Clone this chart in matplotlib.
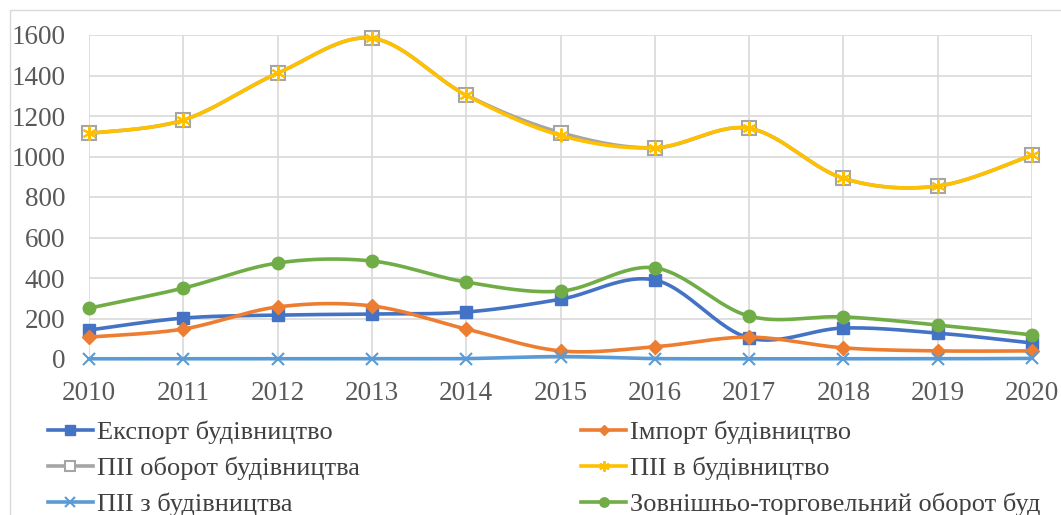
import matplotlib
matplotlib.use('Agg')
import matplotlib.pyplot as plt
from matplotlib.lines import Line2D
from matplotlib.patches import Rectangle
import numpy as np

plt.rcParams['font.family'] = ['Liberation Serif', 'DejaVu Serif']

years = [2010, 2011, 2012, 2013, 2014, 2015, 2016, 2017, 2018, 2019, 2020]
export_bud = [143, 202, 217, 222, 232, 295, 390, 104, 153, 128, 79]
import_bud = [108, 148, 257, 262, 148, 40, 60, 108, 55, 40, 40]
pii_oborot = [1114, 1180, 1411, 1584, 1304, 1118, 1043, 1139, 892, 854, 1007]
pii_v = [1114, 1180, 1411, 1584, 1302, 1104, 1043, 1139, 892, 854, 1007]
pii_z = [1, 1, 1, 1, 2, 12, 2, 1, 1, 1, 3]
zovn = [251, 350, 474, 484, 380, 335, 450, 212, 208, 168, 119]

labels = ['Експорт будівництво', 'Імпорт будівництво', 'ПІІ оборот будівництва',
          'ПІІ в будівництво', 'ПІІ з будівництва', 'Зовнішньо-торговельний оборот буд']


def smooth(xs, ys, n=30):
    # catmull-rom -> bezier, roughly what excel does for smoothed lines
    x = np.asarray(xs, float)
    y = np.asarray(ys, float)
    px = np.concatenate(([x[0]], x, [x[-1]]))
    py = np.concatenate(([y[0]], y, [y[-1]]))
    t = np.linspace(0, 1, n)
    ox, oy = [], []
    for i in range(1, len(px) - 2):
        c1x = px[i] + (px[i + 1] - px[i - 1]) / 6
        c1y = py[i] + (py[i + 1] - py[i - 1]) / 6
        c2x = px[i + 1] - (px[i + 2] - px[i]) / 6
        c2y = py[i + 1] - (py[i + 2] - py[i]) / 6
        b0, b1, b2, b3 = (1 - t) ** 3, 3 * (1 - t) ** 2 * t, 3 * (1 - t) * t ** 2, t ** 3
        ox.append(b0 * px[i] + b1 * c1x + b2 * c2x + b3 * px[i + 1])
        oy.append(b0 * py[i] + b1 * c1y + b2 * c2y + b3 * py[i + 1])
    return np.concatenate(ox), np.concatenate(oy)


fig = plt.figure(figsize=(10.61, 5.15), dpi=100)
ax = fig.add_axes([89 / 1061, 1 - 359 / 515, (1032 - 89) / 1061, (359 - 35) / 515])

styles = [
    (export_bud, '#4472C4', dict(marker='s', markersize=9, markerfacecolor='#4472C4', markeredgecolor='#4472C4')),
    (import_bud, '#ED7D31', dict(marker='D', markersize=7, markerfacecolor='#ED7D31', markeredgecolor='#ED7D31')),
    (pii_oborot, '#A5A5A5', dict(marker='s', markersize=10, markerfacecolor='#FFFFFF', markeredgecolor='#A5A5A5', markeredgewidth=1.5)),
    (pii_v, '#FFC000', dict(marker=(6, 2, 0), markersize=10, markeredgecolor='#FFC000', markeredgewidth=1.5)),
    (pii_z, '#5B9BD5', dict(marker='x', markersize=9, markeredgecolor='#5B9BD5', markeredgewidth=1.5)),
    (zovn, '#70AD47', dict(marker='o', markersize=9, markerfacecolor='#70AD47', markeredgecolor='#70AD47')),
]

handles = []
for k, (vals, col, mk) in enumerate(styles):
    sx, sy = smooth(years, vals)
    ax.plot(sx, sy, color=col, lw=2.6, zorder=3 + k, solid_capstyle='round', clip_on=False)
    ax.plot(years, vals, linestyle='none', zorder=3 + k, clip_on=False, **mk)
    lmk = dict(mk)
    lmk['markersize'] = mk['markersize'] * 0.75
    handles.append(Line2D([0], [0], color=col, lw=2.6, **lmk))

ax.set_xlim(2010, 2020)
ax.set_ylim(0, 1600)
ax.set_xticks(years)
ax.set_yticks(range(0, 1601, 200))
ax.grid(True, color='#D9D9D9', lw=1.2, zorder=0)
for s in ax.spines.values():
    s.set_visible(False)
ax.tick_params(length=0, labelsize=19.5, colors='#595959')
ax.tick_params(axis='y', pad=17)
ax.tick_params(axis='x', pad=16)

# legend goes row by row in the reference
order = [0, 2, 4, 1, 3, 5]
fig.legend([handles[i] for i in order], [labels[i] for i in order], loc='upper left',
           bbox_to_anchor=(48 / 1061, 1 - 421 / 515), ncol=2, frameon=False, fontsize=19,
           handlelength=1.7, handletextpad=0.15, columnspacing=8.4, labelspacing=0.46,
           labelcolor='#404040', borderaxespad=0, borderpad=0)

fig.add_artist(Rectangle((10 / 1061, -0.1), 1.2, 1.1 - 10 / 515, transform=fig.transFigure,
                         fill=False, edgecolor='#D9D9D9', lw=1))

fig.savefig('out.png', dpi=100)
